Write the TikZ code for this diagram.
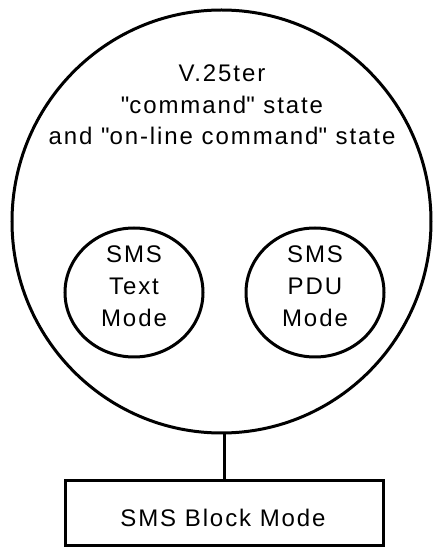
\documentclass[tikz,border=0pt]{standalone}
\usepackage{fontspec}
\setmainfont{Liberation Sans}[LetterSpace=8]
\usetikzlibrary{shapes.geometric}
\begin{document}
\begin{tikzpicture}[x=1pt,y=1pt,
  ring/.style={draw, ellipse, line width=3pt, inner sep=0pt},
  lbl/.style={align=center, font=\fontsize{24}{32}\selectfont, inner sep=0pt},
  blockbox/.style={draw, rectangle, line width=3pt, inner sep=0pt, minimum width=318pt, minimum height=65pt}]
\useasboundingbox (0,0) rectangle (432,547);
\node[ring, minimum width=419pt, minimum height=423pt] (big) at (221.5,325.5) {};
\node[lbl, font=\fontsize{24}{31.5}\selectfont] (title) at (222,442) {V.25ter\\\textquotedbl command\textquotedbl{} state\\and \textquotedbl on-line command\textquotedbl{} state};
\node[ring, minimum width=138pt, minimum height=129pt] (text) at (134,254.5) {};
\node[lbl] (textlbl) at (134,261) {SMS\\Text\\Mode};
\node[ring, minimum width=138pt, minimum height=129pt] (pdu) at (315,254.5) {};
\node[lbl] (pdulbl) at (315,261) {SMS\\PDU\\Mode};
\node[blockbox] (block) at (224,33.5) {};
\node[lbl] (blocklbl) at (223,29) {SMS Block Mode};
\draw[line width=3pt] (block.north) -- (block.north |- big.south);
\end{tikzpicture}
\end{document}
